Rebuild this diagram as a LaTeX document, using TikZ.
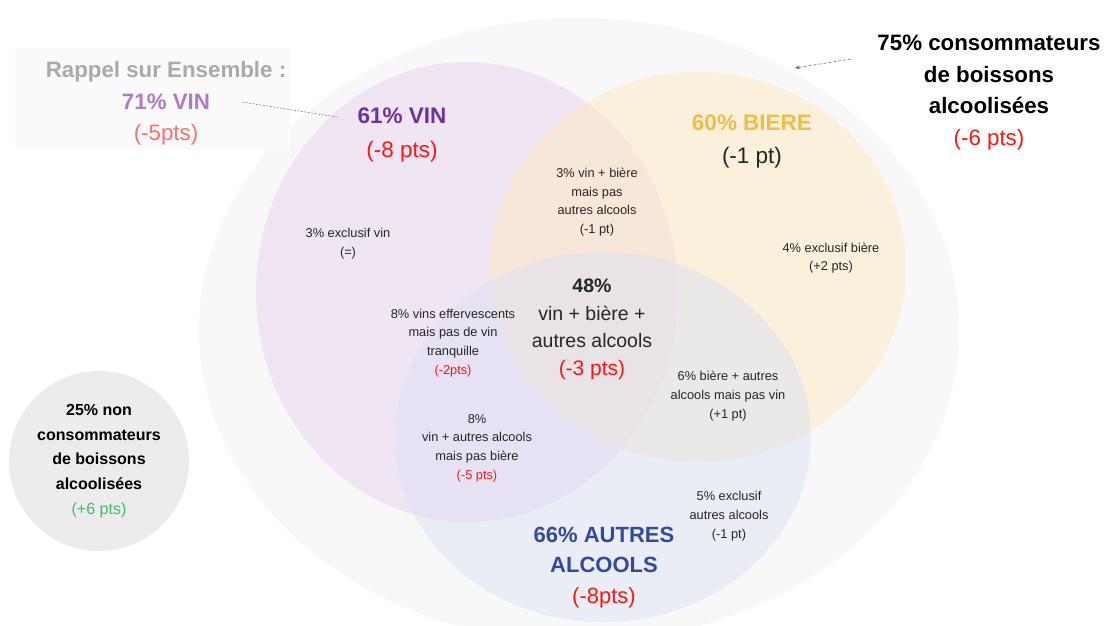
\documentclass[tikz,border=0pt]{standalone}
\usepackage{fontspec}
\setmainfont{Liberation Sans}
\usetikzlibrary{arrows.meta}
\definecolor{outerc}{RGB}{248,248,248}
\definecolor{winec}{RGB}{233,211,238}
\definecolor{beerc}{RGB}{253,233,193}
\definecolor{autresc}{RGB}{221,225,245}
\definecolor{nonc}{RGB}{236,236,236}
\definecolor{boxc}{RGB}{250,250,250}
\definecolor{txt}{RGB}{38,38,38}
\definecolor{pred}{RGB}{255,20,20}
\definecolor{lred}{RGB}{255,110,110}
\definecolor{vinc}{RGB}{112,48,160}
\definecolor{lvinc}{RGB}{176,122,200}
\definecolor{goldc}{RGB}{240,190,70}
\definecolor{bluec}{RGB}{47,74,160}
\definecolor{greenc}{RGB}{60,190,100}
\definecolor{rgrey}{RGB}{170,170,170}
\definecolor{lined}{RGB}{110,110,110}
\begin{document}
\begin{tikzpicture}[x=1pt,y=-1pt,
  small/.style={font=\fontsize{12.8}{18.7}\selectfont, text=txt, align=center, inner sep=0pt},
  bigtxt/.style={font=\fontsize{22.5}{34}\selectfont, align=center, inner sep=0pt},
  setfill/.style={fill opacity=0.5},
  leader/.style={draw=lined, line width=0.5pt, dash pattern=on 2pt off 1.5pt},
  arrowline/.style={draw=lined, line width=0.6pt, dash pattern=on 3pt off 2pt, -{Stealth[length=5pt,width=4pt]}}]
\useasboundingbox (0,0) rectangle (1106,625);
\clip (0,0) rectangle (1106,625);
\fill[white] (0,0) rectangle (1106,625);
% sets
\fill[outerc] (579,330) ellipse [x radius=380, y radius=312];
\fill[winec, setfill] (467,292) ellipse [x radius=211, y radius=230];
\fill[beerc, setfill] (698,267) ellipse [x radius=208, y radius=195];
\fill[autresc, setfill] (603,437) ellipse [x radius=208, y radius=185];
\node[circle, fill=nonc, minimum size=180pt, inner sep=0pt] (noncirc) at (99,461) {};
% rappel box
\node[fill=boxc, minimum width=275pt, minimum height=102pt, inner sep=0pt] (rappelbg) at (152.5,99) {};
\node[font=\fontsize{22.3}{31.5}\selectfont, align=center, inner sep=0pt] (rappel) at (166,103.5)
  {\textcolor{rgrey}{\bfseries Rappel sur Ensemble :}\\\textcolor{lvinc}{\bfseries 71\% VIN}\\\textcolor{lred}{(-5pts)}};
% main labels
\node[bigtxt] (vin) at (402,135) {\textcolor{vinc}{\bfseries 61\% VIN}\\\textcolor{pred}{(-8 pts)}};
\node[font=\fontsize{22.5}{33}\selectfont, align=center, inner sep=0pt] (biere) at (752,141.5) {\textcolor{goldc}{\bfseries 60\% BIERE}\\\textcolor{txt}{(-1 pt)}};
\node[font=\fontsize{22.3}{31.7}\selectfont, align=center, inner sep=0pt, text=black] (cons) at (989,92.5)
  {\bfseries 75\% consommateurs\\\bfseries de boissons\\\bfseries alcoolisées\\\textcolor{pred}{(-6 pts)}};
\node[font=\fontsize{22}{30.5}\selectfont, align=center, inner sep=0pt] (autres) at (604,567.5)
  {\textcolor{bluec}{\bfseries 66\% AUTRES}\\\textcolor{bluec}{\bfseries ALCOOLS}\\\textcolor{pred}{(-8pts)}};
\node[font=\fontsize{19.5}{27.7}\selectfont, align=center, inner sep=0pt, text=txt] (tous) at (592,329.5)
  {\bfseries 48\%\\vin + bière +\\autres alcools\\\textcolor{pred}{\fontsize{21}{27.7}\selectfont(-3 pts)}};
\node[font=\fontsize{16}{24.6}\selectfont, align=center, inner sep=0pt, text=black] (non) at (noncirc.center)
  {\bfseries 25\% non\\\bfseries consommateurs\\\bfseries de boissons\\\bfseries alcoolisées\\\textcolor{greenc}{(+6 pts)}};
% small region labels
\node[small] (vb) at (597,202) {3\% vin + bière\\mais pas\\autres alcools\\(-1 pt)};
\node[small] (ev) at (348,243.5) {3\% exclusif vin\\(=)};
\node[small] (eb) at (831,258) {4\% exclusif bière\\(+2 pts)};
\node[small] (eff) at (453,343) {8\% vins effervescents\\mais pas de vin\\tranquille\\\textcolor{pred}{(-2pts)}};
\node[small] (ba) at (728,396) {6\% bière + autres\\alcools mais pas vin\\(+1 pt)};
\node[small] (va) at (477,448) {8\%\\vin + autres alcools\\mais pas bière\\\textcolor{pred}{(-5 pts)}};
\node[small] (ea) at (729,516) {5\% exclusif\\autres alcools\\(-1 pt)};
% connectors
\coordinate (l1) at (242,102);
\coordinate (l2) at (337,117);
\draw[leader] (l1) -- (l2);
\coordinate (a1) at (851,59);
\coordinate (a2) at (795,68);
\draw[arrowline] (a1) -- (a2);
\end{tikzpicture}
\end{document}
